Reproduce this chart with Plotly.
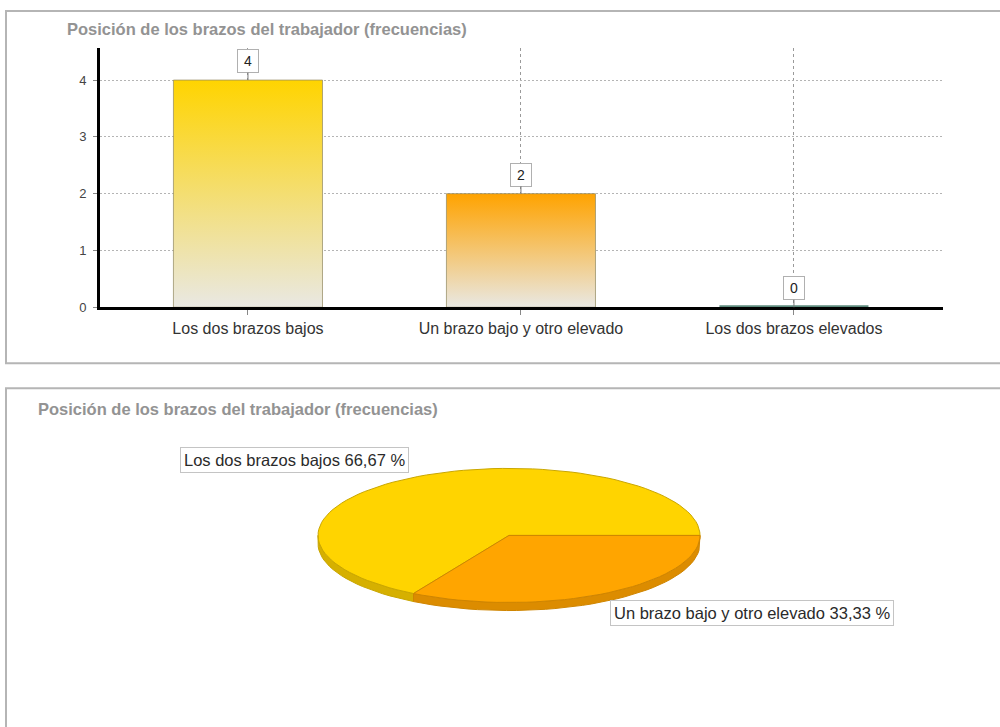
import math
import plotly.graph_objects as go

# ---- data ----
TITLE = "Posición de los brazos del trabajador (frecuencias)"
categories = ["Los dos brazos bajos", "Un brazo bajo y otro elevado", "Los dos brazos elevados"]
frequencies = [4, 2, 0]
y_ticks = [0, 1, 2, 3, 4]

# ---- styling ----
W, H = 1000, 727
Y_SCALE = 1.012
FONT = "Liberation Sans, Arial, sans-serif"
bar_top_colors = ["#FFD400", "#FFA300", "#5d8a7c"]
bar_base_color = "#E9E8E3"
pie_top_colors = ["#FFD400", "#FFA500"]
pie_side_colors = ["#D6B000", "#DC8C00"]
pie_edge_colors = ["#C9A600", "#CF8500"]
BAR_WIDTH = 0.546
PIE_DEPTH = 0.12


def pxx(px):
    return px / W


def pxy(py):
    return 1 - py * Y_SCALE / H


fig = go.Figure()

# ---- bar chart (top panel) ----
for i, (cat, v) in enumerate(zip(categories, frequencies)):
    x0, x1 = i - BAR_WIDTH / 2, i + BAR_WIDTH / 2
    if v > 0:
        fig.add_trace(go.Scatter(
            x=[x0, x1, x1, x0, x0], y=[0, 0, v, v, 0],
            mode="lines", fill="toself",
            fillgradient=dict(type="vertical",
                              colorscale=[[0, bar_base_color], [1, bar_top_colors[i]]]),
            line=dict(color="rgba(150,140,100,0.75)", width=1),
            name=cat, hoverinfo="x+y", showlegend=False,
            xaxis="x", yaxis="y"))
    else:
        fig.add_trace(go.Scatter(
            x=[x0, x1], y=[v, v], mode="lines",
            line=dict(color=bar_top_colors[i], width=4),
            name=cat, showlegend=False, xaxis="x", yaxis="y"))

    fig.add_annotation(
        x=i, y=v, xref="x", yref="y", text=str(v),
        showarrow=True, arrowhead=0, arrowwidth=1, arrowcolor="#777777",
        ax=0, ay=-19, bgcolor="white", bordercolor="#b0b0b0", borderwidth=1,
        borderpad=2, width=16, height=18,
        font=dict(family=FONT, size=14, color="#222222"))

# ---- 3D-style pie (bottom panel), slices run counter-clockwise from 3 o'clock ----
total = sum(frequencies)


def arc(t0, t1, n=120):
    steps = max(2, int(abs(t1 - t0) / 360 * n) + 2)
    return [t0 + (t1 - t0) * k / (steps - 1) for k in range(steps)]


slices = []
angle = 0.0
for i, v in enumerate(frequencies):
    if v == 0:
        continue
    sweep = 360.0 * v / total
    slices.append((i, angle, angle + sweep))
    angle += sweep

# side walls (front half of the disc only: 180..360 degrees)
for i, a0, a1 in slices:
    s0, s1 = max(a0, 180.0), min(a1, 360.0)
    if s0 >= s1:
        continue
    ts = arc(s0, s1)
    xs = [math.cos(math.radians(t)) for t in ts]
    ys = [math.sin(math.radians(t)) for t in ts]
    px_ = xs + xs[::-1] + [xs[0]]
    py_ = ys + [y - PIE_DEPTH for y in ys[::-1]] + [ys[0]]
    fig.add_trace(go.Scatter(
        x=px_, y=py_, mode="lines", fill="toself",
        fillcolor=pie_side_colors[i], line=dict(color=pie_edge_colors[i], width=1),
        hoverinfo="skip", showlegend=False, xaxis="x2", yaxis="y2"))

# top faces
for i, a0, a1 in slices:
    ts = arc(a0, a1)
    xs = [0.0] + [math.cos(math.radians(t)) for t in ts] + [0.0]
    ys = [0.0] + [math.sin(math.radians(t)) for t in ts] + [0.0]
    fig.add_trace(go.Scatter(
        x=xs, y=ys, mode="lines", fill="toself",
        fillcolor=pie_top_colors[i], line=dict(color=pie_edge_colors[i], width=1),
        name=categories[i], hoverinfo="name", showlegend=False,
        xaxis="x2", yaxis="y2"))

# slice labels
label_pos = {0: (180, 460), 1: (610, 612)}
for i, a0, a1 in slices:
    pct = 100.0 * frequencies[i] / total
    text = f"{categories[i]} {pct:.2f} %".replace(".", ",")
    lx, ly = label_pos[i]
    fig.add_annotation(
        x=pxx(lx), y=pxy(ly), xref="paper", yref="paper",
        xanchor="left", yanchor="middle", text=text, showarrow=False,
        bgcolor="white", bordercolor="#c4c4c4", borderwidth=1, borderpad=3,
        font=dict(family=FONT, size=16.5, color="#2a2a2a"))

# ---- panel frames and titles ----
fig.add_shape(type="rect", xref="paper", yref="paper",
              x0=pxx(6), x1=1.01, y0=pxy(363), y1=pxy(11),
              line=dict(color="#b5b5b5", width=2), layer="below")
fig.add_shape(type="rect", xref="paper", yref="paper",
              x0=pxx(6), x1=1.01, y0=-0.02, y1=pxy(388),
              line=dict(color="#b5b5b5", width=2), layer="below")

for tx, ty in [(65, 29), (36, 409)]:
    fig.add_annotation(
        x=pxx(tx), y=pxy(ty), xref="paper", yref="paper",
        xanchor="left", yanchor="middle", showarrow=False,
        text=f"<b>{TITLE}</b>",
        font=dict(family=FONT, size=16.5, color="#939393"))

fig.update_layout(
    width=W, height=H,
    margin=dict(l=0, r=0, t=0, b=0),
    paper_bgcolor="white", plot_bgcolor="white",
    showlegend=False,
    xaxis=dict(
        domain=[pxx(100), pxx(943)], range=[-0.542, 2.546],
        tickvals=list(range(len(categories))), ticktext=categories,
        showline=True, linecolor="black", linewidth=3,
        ticks="outside", ticklen=5, tickcolor="#888888",
        showgrid=True, gridcolor="#9a9a9a", griddash="3px,3px", gridwidth=1,
        zeroline=False, fixedrange=True,
        tickfont=dict(family=FONT, size=16, color="#333333"),
        anchor="y"),
    yaxis=dict(
        domain=[pxy(307), pxy(48)], range=[0, 4.564],
        tickvals=y_ticks, showline=True, linecolor="black", linewidth=3,
        ticks="outside", ticklen=4, tickcolor="#888888",
        showgrid=True, gridcolor="#b4b4b4", griddash="2px,2px", gridwidth=1,
        zeroline=False, fixedrange=True, ticklabelstandoff=4,
        tickfont=dict(family=FONT, size=13, color="#444444"),
        anchor="x"),
    xaxis2=dict(domain=[0.29, 0.73], range=[-1.1466, 1.157],
                visible=False, fixedrange=True, anchor="y2"),
    yaxis2=dict(domain=[pxy(620), pxy(460)], range=[-1.269, 1.119],
                visible=False, fixedrange=True, anchor="x2"),
)

fig.write_html("out.html")
